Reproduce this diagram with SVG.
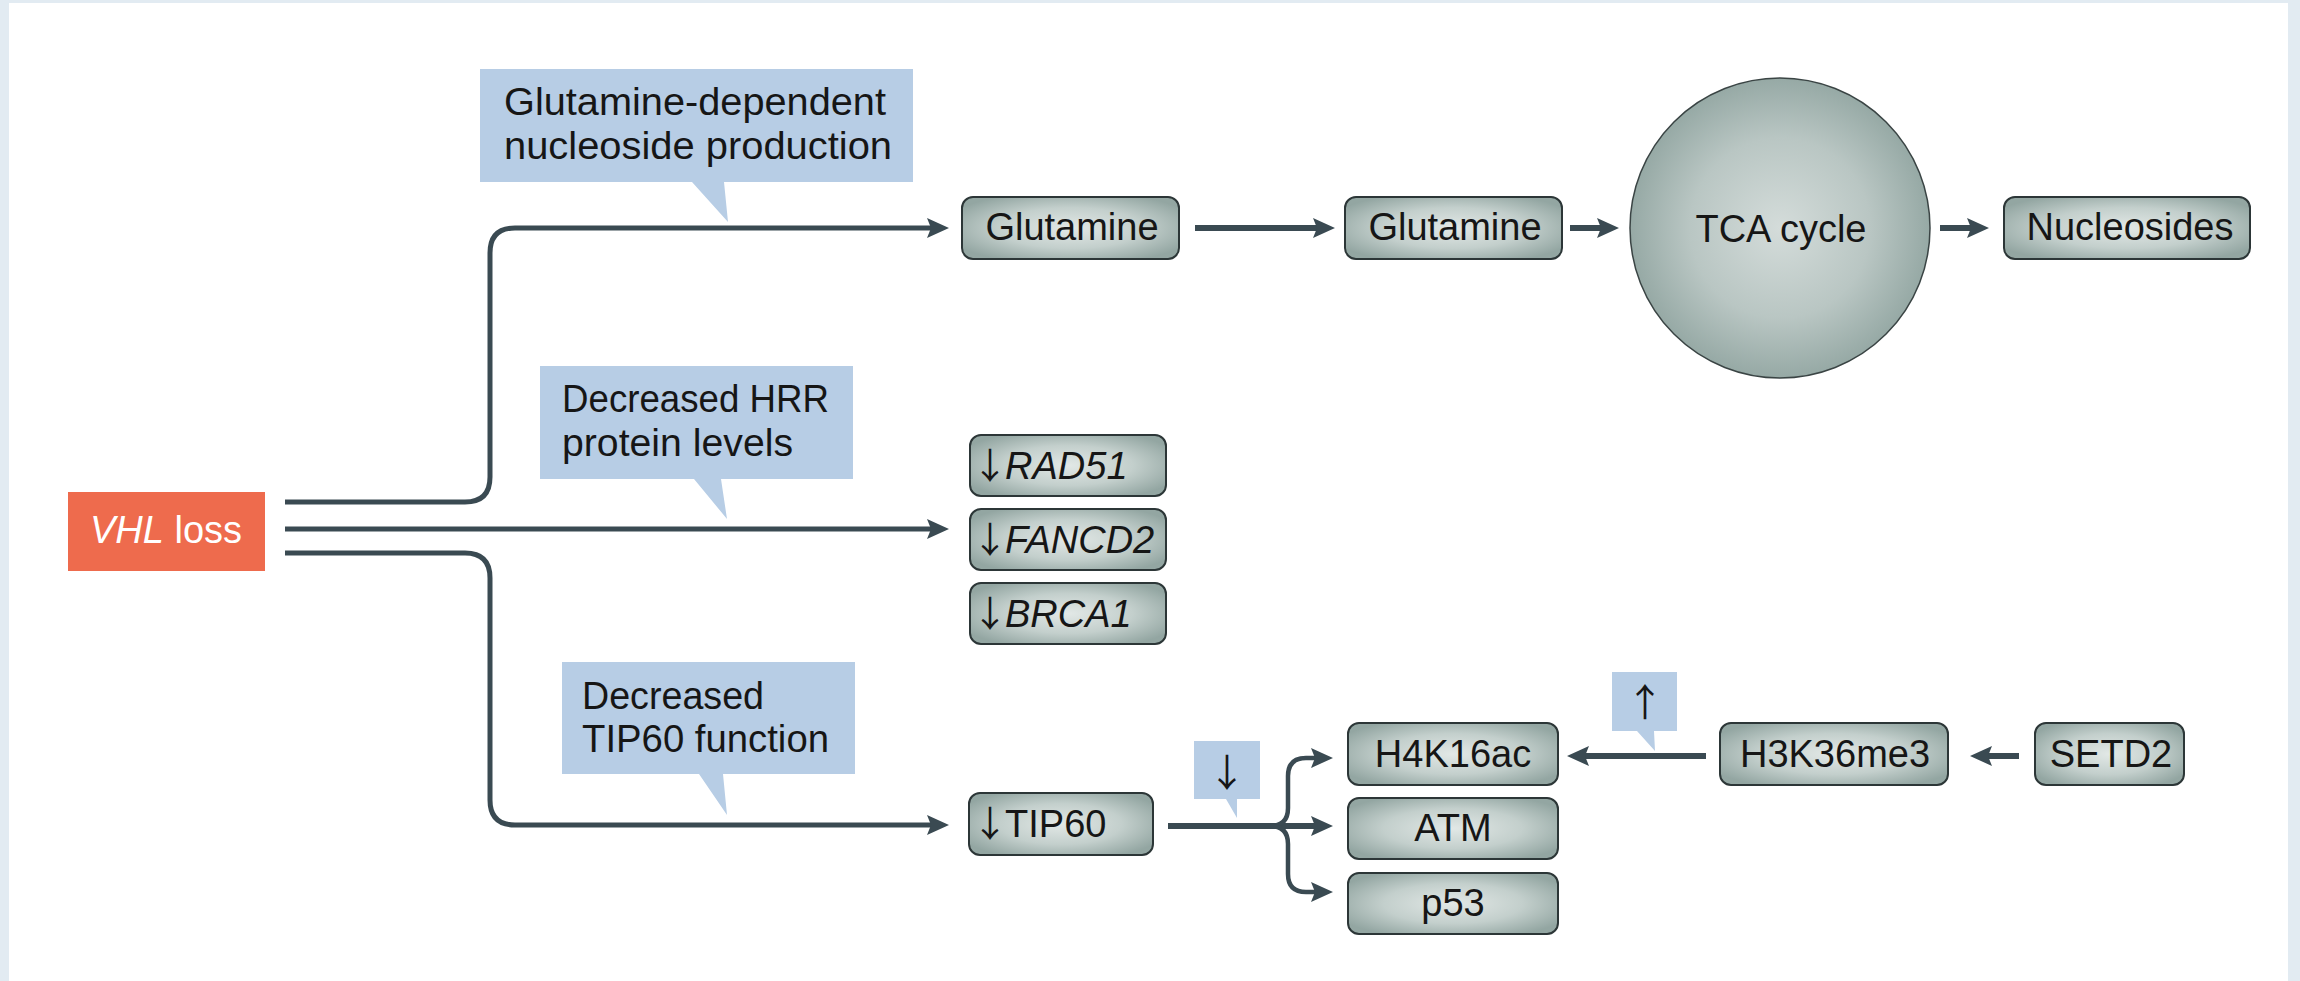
<svg xmlns="http://www.w3.org/2000/svg" width="2300" height="981" viewBox="0 0 2300 981">
<style>
.t{font-family:"Liberation Sans",Arial,sans-serif;font-size:38px;fill:#161616}
.ct{font-family:"Liberation Sans",Arial,sans-serif;font-size:38px;fill:#161616}
.i{font-style:italic}
.ar{font-family:"Noto Sans CJK SC","DejaVu Sans",sans-serif;font-style:normal}
.box{fill:url(#boxg);stroke:#2c3637;stroke-width:2}
.call{fill:#b7cde5}
.ln{fill:none;stroke:#3a4a52;stroke-width:6}
.lnv{fill:none;stroke:#3a4a52;stroke-width:5}
.br{fill:none;stroke:#3a4a52;stroke-width:4.5}
</style>
<defs>
<radialGradient id="boxg" cx="50%" cy="50%" r="60%">
<stop offset="0" stop-color="#e2e8e6"/>
<stop offset="0.55" stop-color="#c3cfcc"/>
<stop offset="1" stop-color="#93a6a2"/>
</radialGradient>
<radialGradient id="circg" cx="50%" cy="50%" r="50%">
<stop offset="0" stop-color="#d4dcda"/>
<stop offset="0.6" stop-color="#b9c6c3"/>
<stop offset="1" stop-color="#96a9a5"/>
</radialGradient>
<marker id="ah" markerUnits="userSpaceOnUse" markerWidth="24" markerHeight="22" refX="7" refY="10" orient="auto" viewBox="0 0 24 22">
<path d="M0,0 L22,10 L0,20 L4,10 Z" fill="#3a4a52"/>
</marker>
</defs>
<rect x="0" y="0" width="2300" height="981" fill="#e2ebf2"/>
<rect x="9" y="3" width="2279" height="978" fill="#ffffff"/>

<g id="connectors">
<path class="lnv" d="M285,502 H465 Q490,502 490,477 V253 Q490,228 515,228 H934" marker-end="url(#ah)"/>
<path class="lnv" d="M285,529 H934" marker-end="url(#ah)"/>
<path class="lnv" d="M285,553 H465 Q490,553 490,578 V800 Q490,825 515,825 H934" marker-end="url(#ah)"/>
<path class="ln" d="M1195,228 H1320" marker-end="url(#ah)"/>
<path class="ln" d="M1570,228 H1604" marker-end="url(#ah)"/>
<path class="ln" d="M1940,228 H1974" marker-end="url(#ah)"/>
<path class="ln" d="M1168,826 H1318" marker-end="url(#ah)"/>
<path class="br" d="M1270,826 Q1288,826 1288,808 V776 Q1288,758 1306,758 H1318" marker-end="url(#ah)"/>
<path class="br" d="M1270,826 Q1288,826 1288,844 V874 Q1288,892 1306,892 H1318" marker-end="url(#ah)"/>
<path class="ln" d="M1706,756 H1582" marker-end="url(#ah)"/>
<path class="ln" d="M2019,756 H1985" marker-end="url(#ah)"/>
</g>

<g id="callout-glutamine">
<path class="call" d="M480,69 H913 V182 H724 L728,222 L692,182 H480 Z"/>
<text class="ct" x="504" y="115" textLength="382" lengthAdjust="spacingAndGlyphs">Glutamine-dependent</text>
<text class="ct" x="504" y="159" textLength="388" lengthAdjust="spacingAndGlyphs">nucleoside production</text>
</g>
<g id="callout-hrr">
<path class="call" d="M540,366 H853 V479 H721 L727,519 L694,479 H540 Z"/>
<text class="ct" x="562" y="412" textLength="267" lengthAdjust="spacingAndGlyphs">Decreased HRR</text>
<text class="ct" x="562" y="456" textLength="231" lengthAdjust="spacingAndGlyphs">protein levels</text>
</g>
<g id="callout-tip60">
<path class="call" d="M562,662 H855 V774 H723 L727,815 L699,774 H562 Z"/>
<text class="ct" x="582" y="709" textLength="182" lengthAdjust="spacingAndGlyphs">Decreased</text>
<text class="ct" x="582" y="752" textLength="247" lengthAdjust="spacingAndGlyphs">TIP60 function</text>
</g>
<g id="callout-down">
<path class="call" d="M1194,741 H1260 V799 H1237 L1237,818 L1226,799 H1194 Z"/>
<text class="t ar" x="1227" y="786" text-anchor="middle" font-size="44">↓</text>
</g>
<g id="callout-up">
<path class="call" d="M1612,672 H1677 V731 H1654 L1655,751 L1637,731 H1612 Z"/>
<text class="t ar" x="1645" y="716" text-anchor="middle" font-size="44">↑</text>
</g>

<g id="vhl-loss">
<rect x="68" y="492" width="197" height="79" fill="#ee6b4d"/>
<text class="t" x="166" y="543" text-anchor="middle" font-size="36" style="fill:#ffffff"><tspan class="i">VHL</tspan> loss</text>
</g>

<g id="glutamine1">
<rect class="box" x="962" y="197" width="217" height="62" rx="11"/>
<text class="t" x="1072" y="240" text-anchor="middle">Glutamine</text>
</g>
<g id="glutamine2">
<rect class="box" x="1345" y="197" width="217" height="62" rx="11"/>
<text class="t" x="1455" y="240" text-anchor="middle">Glutamine</text>
</g>
<g id="tca-cycle">
<circle cx="1780" cy="228" r="150" fill="url(#circg)" stroke="#3a4444" stroke-width="1.5"/>
<text class="t" x="1781" y="242" text-anchor="middle">TCA cycle</text>
</g>
<g id="nucleosides">
<rect class="box" x="2004" y="197" width="246" height="62" rx="11"/>
<text class="t" x="2130" y="240" text-anchor="middle">Nucleosides</text>
</g>

<g id="rad51">
<rect class="box" x="970" y="435" width="196" height="61" rx="11"/>
<text class="t" x="972" y="479"><tspan class="ar" font-size="36">↓</tspan><tspan class="i" dx="-3">RAD51</tspan></text>
</g>
<g id="fancd2">
<rect class="box" x="970" y="509" width="196" height="61" rx="11"/>
<text class="t" x="972" y="553"><tspan class="ar" font-size="36">↓</tspan><tspan class="i" dx="-3">FANCD2</tspan></text>
</g>
<g id="brca1">
<rect class="box" x="970" y="583" width="196" height="61" rx="11"/>
<text class="t" x="972" y="627"><tspan class="ar" font-size="36">↓</tspan><tspan class="i" dx="-3">BRCA1</tspan></text>
</g>

<g id="tip60">
<rect class="box" x="969" y="793" width="184" height="62" rx="11"/>
<text class="t" x="972" y="837"><tspan class="ar" font-size="36">↓</tspan><tspan dx="-3">TIP60</tspan></text>
</g>

<g id="h4k16ac">
<rect class="box" x="1348" y="723" width="210" height="62" rx="11"/>
<text class="t" x="1453" y="767" text-anchor="middle">H4K16ac</text>
</g>
<g id="atm">
<rect class="box" x="1348" y="798" width="210" height="61" rx="11"/>
<text class="t" x="1453" y="841" text-anchor="middle">ATM</text>
</g>
<g id="p53">
<rect class="box" x="1348" y="873" width="210" height="61" rx="11"/>
<text class="t" x="1453" y="916" text-anchor="middle">p53</text>
</g>
<g id="h3k36me3">
<rect class="box" x="1720" y="723" width="228" height="62" rx="11"/>
<text class="t" x="1835" y="767" text-anchor="middle">H3K36me3</text>
</g>
<g id="setd2">
<rect class="box" x="2035" y="723" width="149" height="62" rx="11"/>
<text class="t" x="2111" y="767" text-anchor="middle">SETD2</text>
</g>
</svg>
